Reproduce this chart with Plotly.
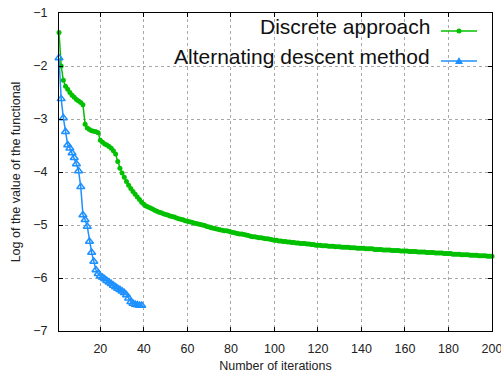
import plotly.graph_objects as go

# ---------------- data ----------------
discrete_values = [
    -1.37, -2.00, -2.27, -2.38, -2.44, -2.50, -2.55, -2.59, -2.63, -2.66,
    -2.69, -2.73, -3.10, -3.17, -3.20, -3.22, -3.23, -3.24, -3.26, -3.40,
    -3.44, -3.47, -3.49, -3.52, -3.55, -3.60, -3.66, -3.80, -3.93, -4.02,
    -4.10, -4.18, -4.25, -4.31, -4.37, -4.42, -4.47, -4.52, -4.57, -4.61,
    -4.64, -4.66, -4.68, -4.70, -4.72, -4.74, -4.76, -4.77, -4.79, -4.80,
    -4.81, -4.83, -4.84, -4.85, -4.87, -4.88, -4.89, -4.90, -4.92, -4.93,
    -4.94, -4.95, -4.96, -4.97, -4.98, -4.99, -5.00, -5.01, -5.03, -5.04,
    -5.05, -5.06, -5.07, -5.08, -5.09, -5.10, -5.11, -5.11, -5.12, -5.13,
    -5.14, -5.15, -5.16, -5.17, -5.17, -5.18, -5.19, -5.20, -5.21, -5.22,
    -5.22, -5.23, -5.24, -5.24, -5.25, -5.26, -5.26, -5.27, -5.28, -5.29,
    -5.29, -5.30, -5.30, -5.31, -5.31, -5.32, -5.32, -5.33, -5.33, -5.34,
    -5.34, -5.35, -5.35, -5.35, -5.36, -5.36, -5.37, -5.37, -5.38, -5.38,
    -5.38, -5.39, -5.39, -5.39, -5.40, -5.40, -5.40, -5.41, -5.41, -5.41,
    -5.42, -5.42, -5.42, -5.42, -5.43, -5.43, -5.43, -5.44, -5.44, -5.44,
    -5.44, -5.45, -5.45, -5.45, -5.45, -5.46, -5.46, -5.46, -5.46, -5.47,
    -5.47, -5.47, -5.47, -5.48, -5.48, -5.48, -5.48, -5.49, -5.49, -5.49,
    -5.49, -5.50, -5.50, -5.50, -5.50, -5.51, -5.51, -5.51, -5.51, -5.52,
    -5.52, -5.52, -5.52, -5.53, -5.53, -5.53, -5.53, -5.54, -5.54, -5.54,
    -5.54, -5.55, -5.55, -5.55, -5.55, -5.56, -5.56, -5.56, -5.56, -5.57,
    -5.57, -5.57, -5.57, -5.58, -5.58, -5.58, -5.58, -5.59, -5.59, -5.59,
]
discrete_iters = list(range(1, len(discrete_values) + 1))

alternating_values = [
    -1.85, -2.62, -2.98, -3.24, -3.49, -3.55, -3.64, -3.73, -3.85, -3.98,
    -4.28, -4.81, -4.90, -5.03, -5.31, -5.52, -5.69, -5.85, -5.92, -5.96,
    -5.99, -6.02, -6.05, -6.08, -6.11, -6.14, -6.17, -6.20, -6.22, -6.25,
    -6.28, -6.32, -6.38, -6.45, -6.48, -6.50, -6.51, -6.52, -6.52,
]
alternating_iters = list(range(1, len(alternating_values) + 1))

series_names = ["Discrete approach", "Alternating descent method"]
x_tick_values = [20, 40, 60, 80, 100, 120, 140, 160, 180, 200]
y_tick_values = [-1, -2, -3, -4, -5, -6, -7]
x_title = "Number of iterations"
y_title = "Log of the value of the functional"

GREEN = "#00c000"
BLUE = "#1e90ff"
FONT = "Liberation Sans, Arial, sans-serif"

fig = go.Figure()
fig.add_trace(go.Scatter(
    x=discrete_iters, y=discrete_values, mode="lines+markers",
    name=series_names[0],
    line=dict(color=GREEN, width=1.5),
    marker=dict(symbol="circle", size=5, color=GREEN),
    showlegend=False, cliponaxis=False,
))
fig.add_trace(go.Scatter(
    x=alternating_iters, y=alternating_values, mode="lines+markers",
    name=series_names[1],
    line=dict(color=BLUE, width=1.5),
    marker=dict(symbol="triangle-up-open", size=7, color=BLUE,
                line=dict(width=1.5, color=BLUE)),
    showlegend=False, cliponaxis=False,
))

axis_common = dict(
    showline=True, linecolor="black", linewidth=1, mirror="ticks",
    ticks="inside", ticklen=4, tickcolor="black",
    showgrid=True, gridcolor="#a8a8a8", griddash="dot", gridwidth=1,
    zeroline=False, automargin=False, ticklabeloverflow="allow",
    tickfont=dict(family=FONT, size=12.5, color="#222222"),
    title_font=dict(family=FONT, size=12.5, color="#222222"),
)

fig.update_xaxes(range=[1, 200], tickvals=x_tick_values,
                 title_text=x_title, title_standoff=8,
                 ticklabelstandoff=6, **axis_common)
fig.update_yaxes(range=[-7, -1], tickvals=y_tick_values,
                 title_text=y_title, title_standoff=9,
                 ticklabelstandoff=8, **axis_common)

WIN_W, WIN_H = 501, 373
L, R, T, B = 59, 9, 13, 42          # plot area in window pixels
W, H = WIN_W - L - R, WIN_H - T - B


def px(x):
    return (x - L) / W


def py(y):
    return 1 - (y - T) / H


# gnuplot-style key: text on the left, sample on the right
key_rows = [(series_names[0], 31, GREEN, "circle"),
            (series_names[1], 61, BLUE, "tri")]
shapes = []
annotations = []
for name, ypix, color, kind in key_rows:
    annotations.append(dict(
        text=name, xref="paper", yref="paper", x=px(432), y=py(ypix - 4),
        xanchor="right", yanchor="middle", showarrow=False,
        font=dict(family=FONT, size=21, color="#111111"),
    ))
    shapes.append(dict(type="line", xref="paper", yref="paper",
                       x0=px(441), x1=px(477), y0=py(ypix), y1=py(ypix),
                       line=dict(color=color, width=1.5)))
    if kind == "circle":
        shapes.append(dict(type="circle", xref="paper", yref="paper",
                           xsizemode="pixel", ysizemode="pixel",
                           xanchor=px(459), yanchor=py(ypix),
                           x0=-2.5, x1=2.5, y0=-2.5, y1=2.5,
                           fillcolor=color, line=dict(color=color, width=0)))
    else:
        shapes.append(dict(type="path", xref="paper", yref="paper",
                           xsizemode="pixel", ysizemode="pixel",
                           xanchor=px(459), yanchor=py(ypix),
                           path="M-4,-3 L4,-3 L0,4 Z",
                           fillcolor=color, line=dict(color=color, width=0)))

fig.update_layout(
    width=WIN_W, height=WIN_H,
    margin=dict(l=L, r=R, t=T, b=B),
    paper_bgcolor="white", plot_bgcolor="white",
    font=dict(family=FONT),
    shapes=shapes, annotations=annotations,
)

fig.write_html(
    "out.html",
    config={"displayModeBar": False},
    post_script="document.body.style.margin='0';",
)
